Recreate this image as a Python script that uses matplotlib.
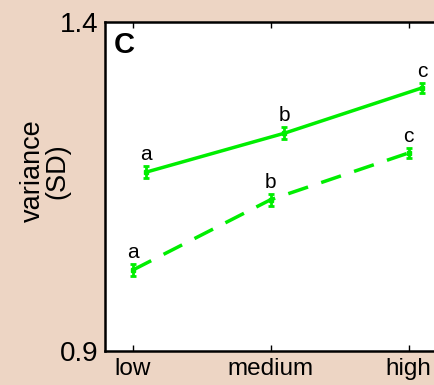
import numpy as np
import matplotlib.pyplot as plt

plt.rcParams['font.family'] = ['Liberation Sans', 'DejaVu Sans']

# data
levels = ['low', 'medium', 'high']
solid_sd = [1.172, 1.231, 1.300]
solid_err = [0.009, 0.009, 0.008]
solid_letters = ['a', 'b', 'c']
dashed_sd = [1.023, 1.130, 1.201]
dashed_err = [0.009, 0.009, 0.008]
dashed_letters = ['a', 'b', 'c']

bg = '#edd5c4'
green = '#00ee00'

fig = plt.figure(figsize=(4.34, 3.85), dpi=100, facecolor=bg)
ax = fig.add_axes([0.242, 0.088, 0.763, 0.855])

x = np.arange(len(levels))
xs = x + 0.1

ax.errorbar(xs, solid_sd, yerr=solid_err, color=green, lw=2.5, capsize=2.5,
            capthick=2, elinewidth=2, marker='s', ms=3)
ax.errorbar(x, dashed_sd, yerr=dashed_err, color=green, lw=2.5, capsize=2.5,
            capthick=2, elinewidth=2, marker='s', ms=3, dashes=(6, 4))

for xi, yi, e, t in zip(xs, solid_sd, solid_err, solid_letters):
    ax.text(xi, yi + e + 0.003, t, ha='center', va='bottom', fontsize=15)
for xi, yi, e, t in zip(x, dashed_sd, dashed_err, dashed_letters):
    ax.text(xi, yi + e + 0.003, t, ha='center', va='bottom', fontsize=15)

ax.text(-0.14, 1.387, 'C', fontsize=21, fontweight='bold', va='top', ha='left')

ax.set_xlim(-0.2, 2.2)
ax.set_ylim(0.9, 1.4)
ax.set_xticks(x)
ax.set_xticklabels(levels, fontsize=17.5)
ax.set_yticks([0.9, 1.4])
ax.set_yticklabels(['0.9', '1.4'], fontsize=20)
ax.tick_params(axis='x', direction='in', top=True, length=4, width=1, pad=5)
ax.tick_params(axis='y', length=0, pad=5)
fig.text(0.104, 0.556, 'variance\n(SD)', fontsize=19.5, rotation=90,
         ha='center', va='center', multialignment='center', linespacing=0.95)
for s in ax.spines.values():
    s.set_linewidth(1.8)

fig.savefig('out.png', dpi=100, facecolor=bg)
